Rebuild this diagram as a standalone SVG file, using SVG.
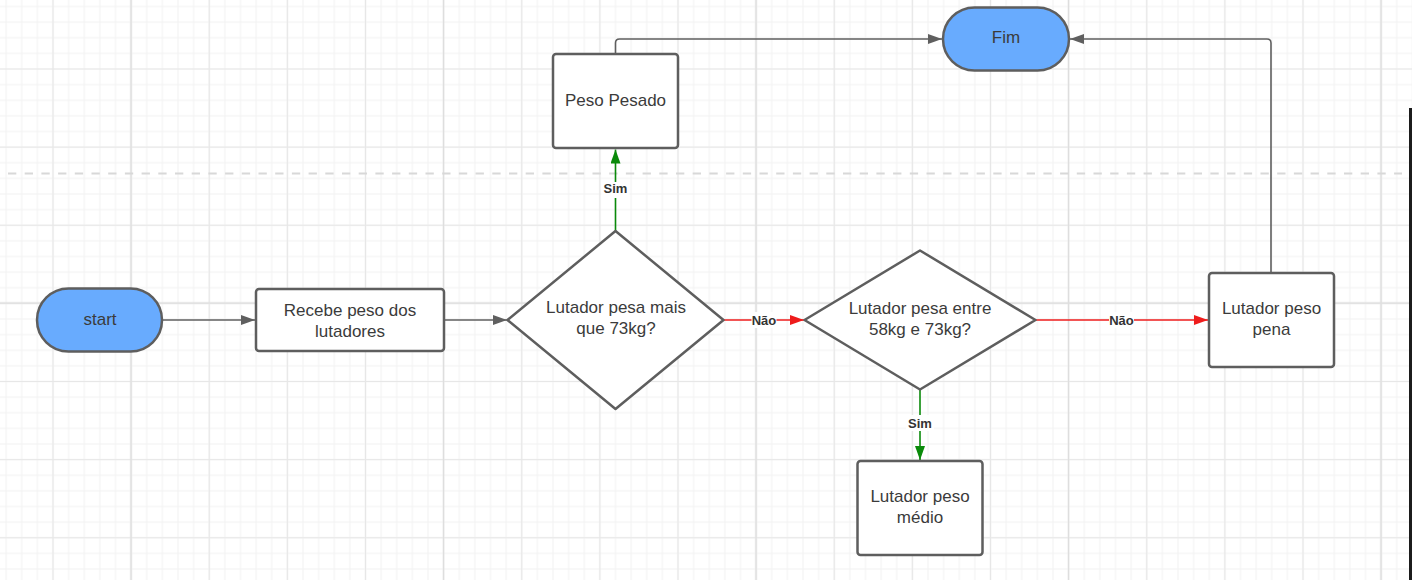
<svg xmlns="http://www.w3.org/2000/svg" width="1412" height="580" viewBox="0 0 1412 580">
  <defs>
    <pattern id="gMinor" patternUnits="userSpaceOnUse" x="45.1875" y="61.1875" width="15.625" height="15.625">
      <path d="M7.8125,0 V15.625 M0,7.8125 H15.625" stroke="#f2f2f2" stroke-width="1" fill="none"/>
    </pattern>
    <pattern id="gMajor" patternUnits="userSpaceOnUse" x="13.9375" y="29.9375" width="78.125" height="78.125">
      <path d="M39.0625,0 V78.125 M0,39.0625 H78.125" stroke="#e7e7e7" stroke-width="1.2" fill="none"/>
    </pattern>
    <pattern id="gSuper" patternUnits="userSpaceOnUse" x="-25.25" y="146.75" width="312.5" height="312.5">
      <path d="M156.25,0 V312.5 M0,156.25 H312.5" stroke="#dedede" stroke-width="1.4" fill="none"/>
    </pattern>
    <marker id="arrGray" markerUnits="userSpaceOnUse" markerWidth="14" markerHeight="10" refX="14" refY="5" orient="auto">
      <path d="M0,0 L14,5 L0,10 z" fill="#5f5f5f"/>
    </marker>
    <marker id="arrGreen" markerUnits="userSpaceOnUse" markerWidth="14" markerHeight="10" refX="14" refY="5" orient="auto">
      <path d="M0,0 L14,5 L0,10 z" fill="#0a8a0a"/>
    </marker>
    <marker id="arrRed" markerUnits="userSpaceOnUse" markerWidth="14" markerHeight="10" refX="14" refY="5" orient="auto">
      <path d="M0,0 L14,5 L0,10 z" fill="#ee1c1c"/>
    </marker>
  </defs>
  <style>
    .shape { stroke: #5e5e5e; stroke-width: 2.5; fill: #ffffff; }
    .term { fill: #68abfe; }
    .txt { font-family: "Liberation Sans", Arial, sans-serif; font-size: 17px; fill: #3b3b3b; text-anchor: middle; }
    .lbl { font-family: "Liberation Sans", Arial, sans-serif; font-size: 13px; font-weight: bold; fill: #333333; text-anchor: middle; }
    .lblbg { fill: #ffffff; }
    .cGray { stroke: #5f5f5f; stroke-width: 1.6; fill: none; marker-end: url(#arrGray); }
    .cGreen { stroke: #0a8a0a; stroke-width: 1.6; fill: none; marker-end: url(#arrGreen); }
    .cRed { stroke: #ee1c1c; stroke-width: 1.6; fill: none; marker-end: url(#arrRed); }
  </style>

  <g id="background">
    <rect x="0" y="0" width="1412" height="580" fill="#ffffff"/>
    <rect x="0" y="0" width="1412" height="580" fill="url(#gMinor)"/>
    <rect x="0" y="0" width="1412" height="580" fill="url(#gMajor)"/>
    <rect x="0" y="0" width="1412" height="580" fill="url(#gSuper)"/>
    <line x1="8" y1="173.5" x2="1402" y2="173.5" stroke="#d8d8d8" stroke-width="2" stroke-dasharray="8.3 8.4"/>
    <rect x="1409" y="108" width="3" height="472" fill="#1c1c1c"/>
  </g>

  <g id="connectors">
    <path class="cGray" d="M162,320 H255"/>
    <path class="cGray" d="M444,320 H507"/>
    <path class="cGreen" d="M615.5,231 V149.5"/>
    <path class="cRed" d="M724,320 H804"/>
    <path class="cRed" d="M1036,320 H1208"/>
    <path class="cGreen" d="M920,389 V460"/>
    <path class="cGray" d="M615.5,54 V43 Q615.5,39 619.5,39 H942"/>
    <path class="cGray" d="M1271,273 V43 Q1271,39 1267,39 H1070"/>
    <g id="labels">
      <rect class="lblbg" x="601.5" y="182" width="28" height="16"/>
      <text class="lbl" x="615.5" y="192.5">Sim</text>
      <rect class="lblbg" x="751.5" y="312" width="25" height="16"/>
      <text class="lbl" x="764" y="324.5">Não</text>
      <rect class="lblbg" x="1109" y="312" width="25" height="16"/>
      <text class="lbl" x="1121.5" y="324.5">Não</text>
      <rect class="lblbg" x="906" y="415" width="28" height="16"/>
      <text class="lbl" x="920" y="427.5">Sim</text>
    </g>
  </g>

  <g id="start">
    <rect class="shape term" x="37" y="288.5" width="125" height="63" rx="31.5" ry="31.5"/>
    <text class="txt" x="100" y="324.5">start</text>
  </g>

  <g id="recebe">
    <rect class="shape" x="256" y="289" width="188" height="62" rx="3" ry="3"/>
    <text class="txt" x="350" y="315.5">Recebe peso dos</text>
    <text class="txt" x="350" y="336.5">lutadores</text>
  </g>

  <g id="decisao1">
    <path class="shape" d="M615.5,231 L723.5,320 L615.5,409 L507.5,320 Z" stroke-linejoin="round"/>
    <text class="txt" x="616" y="313">Lutador pesa mais</text>
    <text class="txt" x="616" y="334">que 73kg?</text>
  </g>

  <g id="pesoPesado">
    <rect class="shape" x="553" y="54" width="125" height="94" rx="3" ry="3"/>
    <text class="txt" x="615.5" y="106">Peso Pesado</text>
  </g>

  <g id="fim">
    <rect class="shape term" x="943" y="7.5" width="126" height="63" rx="31.5" ry="31.5"/>
    <text class="txt" x="1006" y="43">Fim</text>
  </g>

  <g id="decisao2">
    <path class="shape" d="M920,250.5 L1035.5,320 L920,389.5 L804.5,320 Z" stroke-linejoin="round"/>
    <text class="txt" x="920" y="314">Lutador pesa entre</text>
    <text class="txt" x="920" y="335">58kg e 73kg?</text>
  </g>

  <g id="pesoPena">
    <rect class="shape" x="1209" y="273" width="125" height="94" rx="3" ry="3"/>
    <text class="txt" x="1271.5" y="314">Lutador peso</text>
    <text class="txt" x="1271.5" y="335">pena</text>
  </g>

  <g id="pesoMedio">
    <rect class="shape" x="857.5" y="461" width="125" height="94" rx="3" ry="3"/>
    <text class="txt" x="920" y="501.5">Lutador peso</text>
    <text class="txt" x="920" y="522.5">médio</text>
  </g>
</svg>
